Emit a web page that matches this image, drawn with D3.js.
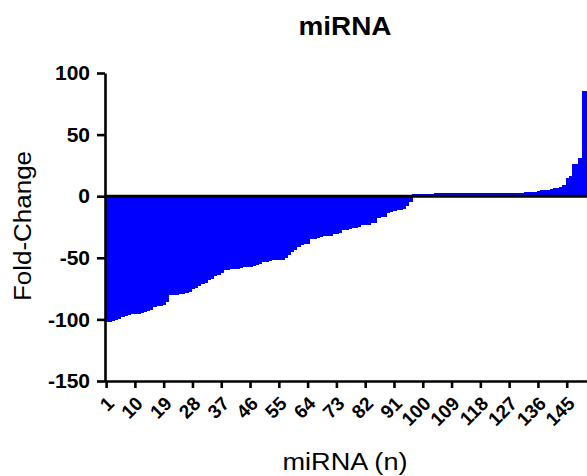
<!DOCTYPE html>
<html>
<head>
<meta charset="utf-8">
<script src="https://cdn.jsdelivr.net/npm/d3@7"></script>
<style>
  body { margin: 0; background: #fff; overflow: hidden; }
  svg { display: block; font-family: "Liberation Sans", Arial, sans-serif; }
</style>
</head>
<body>
<div id="chart-container"></div>
<script>
// miRNA index (1..151) and fold-change
const mirnaIndex = d3.range(1, 152);
const foldChange = [
  -102.5, -102, -101, -100.5, -100, -98, -97, -96.5, -96, -95.5,
  -95.3, -95, -94, -93, -92.5, -90, -89.5, -89, -88.5, -86,
  -80.5, -80, -79.8, -79.5, -79, -78.5, -77.5, -75.5, -74.5, -72.5,
  -71, -70.5, -68, -67, -65, -64, -62, -60, -59.5, -59.3,
  -59.3, -59, -58.5, -57.5, -57.4, -57.2, -57, -55.5, -55, -53.5,
  -53.3, -52.3, -52, -52, -51.8, -51.5, -50, -47.5, -45.5, -43.8,
  -41, -39.5, -39.2, -39, -35, -34.4, -34.2, -33, -32.5, -32.4,
  -32.2, -31, -30.3, -29.5, -27.6, -27.4, -26.5, -25.7, -25.6, -25.2,
  -23.5, -23.3, -23, -22, -21.6, -17.5, -17, -16.8, -14, -12.7,
  -12, -11, -10.8, -10.5, -8, -5,
  2.0, 2.0, 2.0, 2.1, 2.1, 2.1, 2.1, 2.2, 2.2, 2.2,
  2.2, 2.2, 2.3, 2.3, 2.3, 2.3, 2.4, 2.4, 2.4, 2.4,
  2.5, 2.5, 2.5, 2.5, 2.6, 2.6, 2.6, 2.7, 2.7, 2.7,
  2.8, 2.8, 2.8, 2.9, 2.9,
  3.4, 3.5, 3.6, 3.7, 4.6, 4.8, 5.0, 5.3, 6.2, 6.5,
  6.8, 7.5, 9, 15, 16.2, 26, 26.5, 31, 85, 85
];
const xTickValues = [1, 10, 19, 28, 37, 46, 55, 64, 73, 82, 91, 100, 109, 118, 127, 136, 145];
const yTickValues = [-150, -100, -50, 0, 50, 100];

const width = 587;
const height = 476;
const margin = { top: 73, left: 105, right: -1, bottom: 95 };
const barColor = "#0000ff";

const data = mirnaIndex.map((d, i) => ({ n: d, value: foldChange[i] }));

const svg = d3.select("#chart-container").append("svg")
  .attr("width", width)
  .attr("height", height);

//Defines the scales
const x = d3.scaleBand()
  .domain(mirnaIndex)
  .range([margin.left, width - margin.right])
  .padding(0);

const y = d3.scaleLinear()
  .domain([-150, 100])
  .range([height - margin.bottom, margin.top]);

//Draw bars
svg.append("g")
  .attr("shape-rendering", "crispEdges")
  .selectAll("rect")
  .data(data)
  .enter().append("rect")
  .attr("x", d => x(d.n))
  .attr("y", d => y(Math.max(0, d.value)))
  .attr("width", x.bandwidth() + 0.5)
  .attr("height", d => Math.abs(y(d.value) - y(0)))
  .attr("fill", barColor);

// zero baseline
svg.append("line")
  .attr("x1", x.range()[0])
  .attr("x2", x.range()[1])
  .attr("y1", y(0))
  .attr("y2", y(0))
  .attr("stroke", "#000")
  .attr("stroke-width", 3);

// Y axis (plain hyphen for negatives, like the figure)
const yAxis = svg.append("g")
  .attr("transform", `translate(${margin.left},0)`)
  .call(d3.axisLeft(y).tickValues(yTickValues).tickFormat(d => String(d))
    .tickSize(8).tickSizeOuter(0).tickPadding(7));

yAxis.select(".domain").attr("stroke-width", 2.6);
yAxis.selectAll(".tick line").attr("stroke-width", 2.6);
yAxis.selectAll(".tick text")
  .attr("fill", "#000")
  .style("font-size", "21px")
  .style("font-weight", "bold");

// X axis
const xAxis = svg.append("g")
  .attr("transform", `translate(0,${y(-150)})`)
  .call(d3.axisBottom(x).tickValues(xTickValues).tickSize(7).tickSizeOuter(0));

xAxis.select(".domain").attr("stroke-width", 2.6);
xAxis.selectAll(".tick line").attr("stroke-width", 2.6);
xAxis.selectAll(".tick text")
  .attr("fill", "#000")
  .attr("x", 0)
  .attr("y", 0)
  .attr("dy", "0.35em")
  .attr("text-anchor", "end")
  .attr("transform", "translate(4,19) rotate(-45)")
  .style("font-size", "19px")
  .style("font-weight", "bold");

// Title and axis labels
svg.append("text")
  .attr("x", 345)
  .attr("y", 35)
  .attr("text-anchor", "middle")
  .attr("textLength", 93)
  .attr("lengthAdjust", "spacingAndGlyphs")
  .style("font-size", "25px")
  .style("font-weight", "bold")
  .text("miRNA");

svg.append("text")
  .attr("transform", `translate(31,226) rotate(-90)`)
  .attr("text-anchor", "middle")
  .attr("textLength", 150)
  .attr("lengthAdjust", "spacingAndGlyphs")
  .style("font-size", "23px")
  .text("Fold-Change");

svg.append("text")
  .attr("x", 345)
  .attr("y", 470)
  .attr("text-anchor", "middle")
  .attr("textLength", 125)
  .attr("lengthAdjust", "spacingAndGlyphs")
  .style("font-size", "23px")
  .text("miRNA (n)");
</script>
</body>
</html>
